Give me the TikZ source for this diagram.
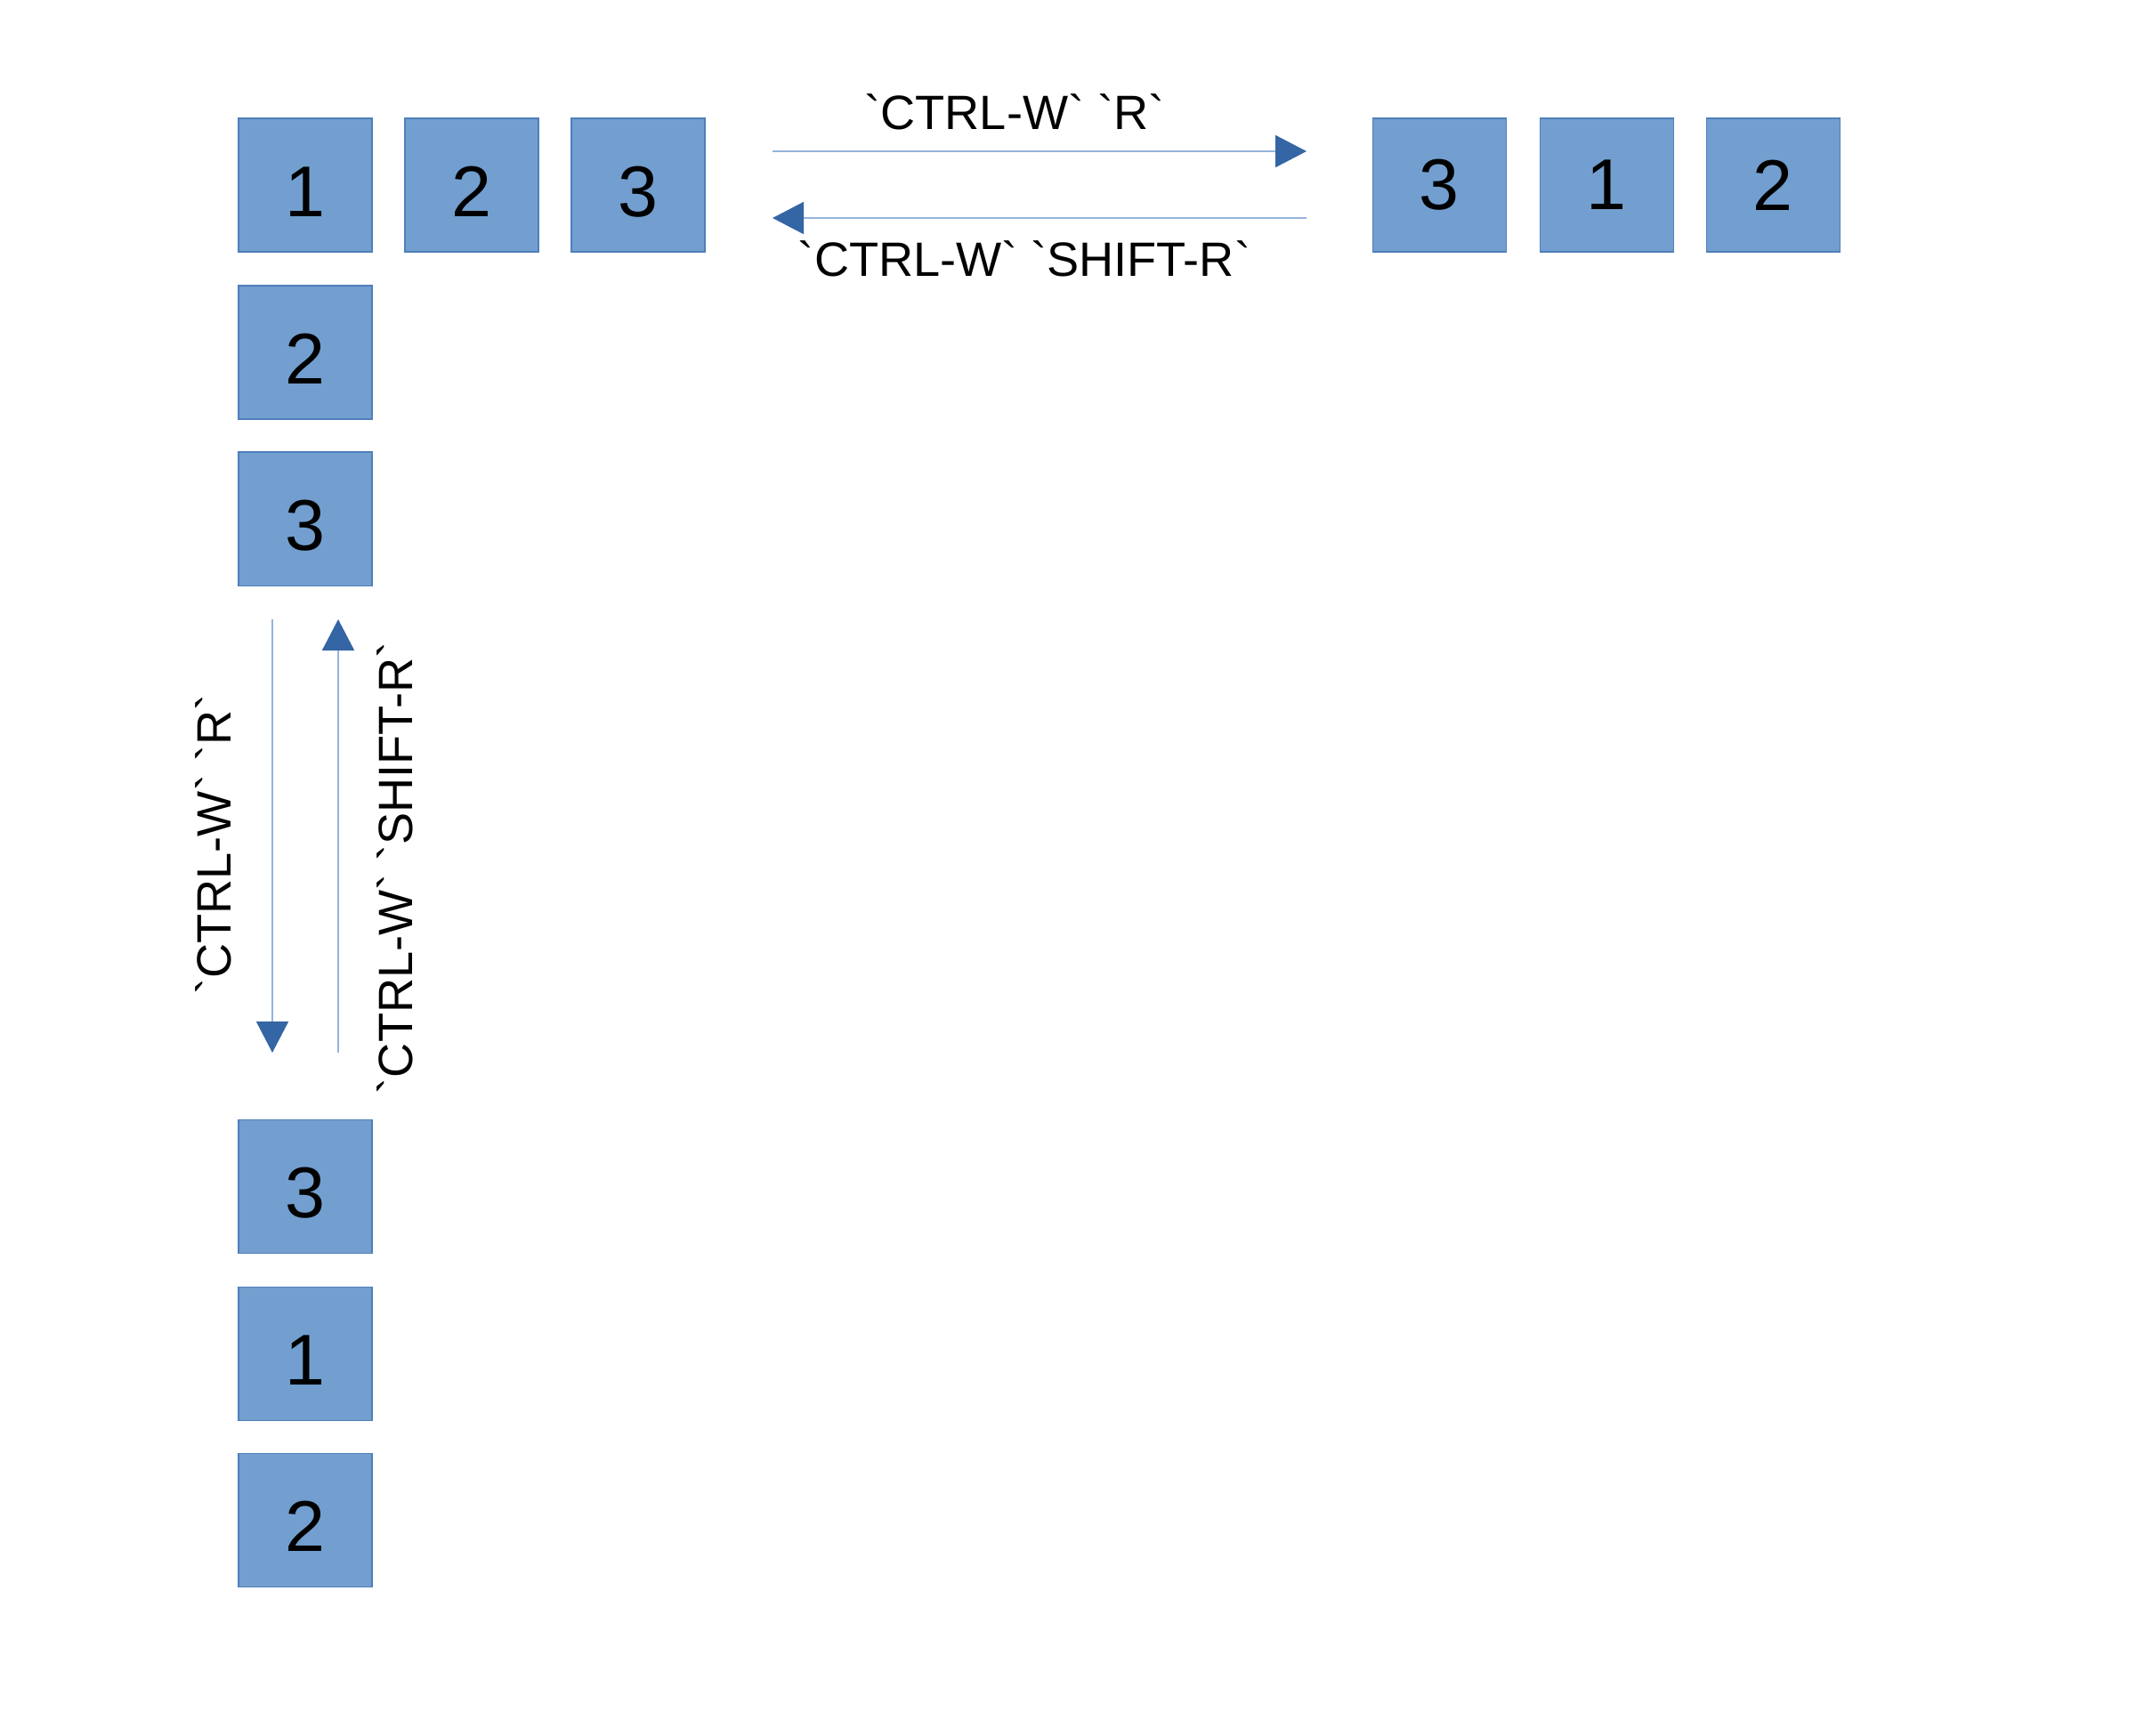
\documentclass[tikz,border=0pt]{standalone}
\usepackage{fontspec}
\setmainfont{Liberation Sans}[Ligatures=TeXOff]
\usetikzlibrary{arrows.meta}

\begin{document}
\begin{tikzpicture}[
    box/.style={draw=borderColour, line width=0.3pt, fill=fillColour, minimum size=1.5cm, inner sep=0pt, font=\fontsize{23}{23}\selectfont},
    low/.style={text height=0.71cm, text depth=0pt},
    keys/.style={font=\fontsize{15.4}{15.4}\selectfont, inner sep=0pt},
    move/.style={lineColour, line width=0.5pt, -{Triangle[length=0.35cm, width=0.36cm, color=headColour]}}
]
    % Define colours
    \definecolor{borderColour}{HTML}{4F7FBA}
    \definecolor{fillColour}{HTML}{729FCF}
    \definecolor{lineColour}{HTML}{94B4DC}
    \definecolor{headColour}{HTML}{3465A4}

    % Fix page size
    \useasboundingbox (0,0) rectangle (24,-19.5);

    % Windows before
    \node[box, low] (h1) at (3.43,-2.08) {1};
    \node[box, low] (h2) at (5.30,-2.08) {2};
    \node[box, low] (h3) at (7.17,-2.08) {3};
    \node[box, low] (v2) at (3.43,-3.96) {2};
    \node[box, low] (v3) at (3.43,-5.83) {3};

    % Windows after
    \node[box] (r3) at (16.17,-2.08) {3};
    \node[box] (r1) at (18.05,-2.08) {1};
    \node[box] (r2) at (19.92,-2.08) {2};
    \node[box, low] (d3) at (3.43,-13.33) {3};
    \node[box, low] (d1) at (3.43,-15.21) {1};
    \node[box, low] (d2) at (3.43,-17.08) {2};

    % Arrow end points
    \coordinate (hl) at (8.68,-1.70);
    \coordinate (hr) at (14.68,-1.70);
    \coordinate (hl2) at (8.68,-2.45);
    \coordinate (hr2) at (14.68,-2.45);
    \coordinate (vt) at (3.06,-6.96);
    \coordinate (vb) at (3.06,-11.83);
    \coordinate (vt2) at (3.80,-6.96);
    \coordinate (vb2) at (3.80,-11.83);

    % Horizontal moves
    \draw[move] (hl) -- (hr);
    \draw[move] (hr2) -- (hl2);
    \node[keys] (lr) at (11.40,-1.26) {`CTRL-W` `R`};
    \node[keys] (ls) at (11.51,-2.91) {`CTRL-W` `SHIFT-R`};

    % Vertical moves
    \draw[move] (vt) -- (vb);
    \draw[move] (vb2) -- (vt2);
    \node[keys, rotate=90] (lvr) at (2.40,-9.49) {`CTRL-W` `R`};
    \node[keys, rotate=90] (lvs) at (4.44,-9.75) {`CTRL-W` `SHIFT-R`};

\end{tikzpicture}
\end{document}
